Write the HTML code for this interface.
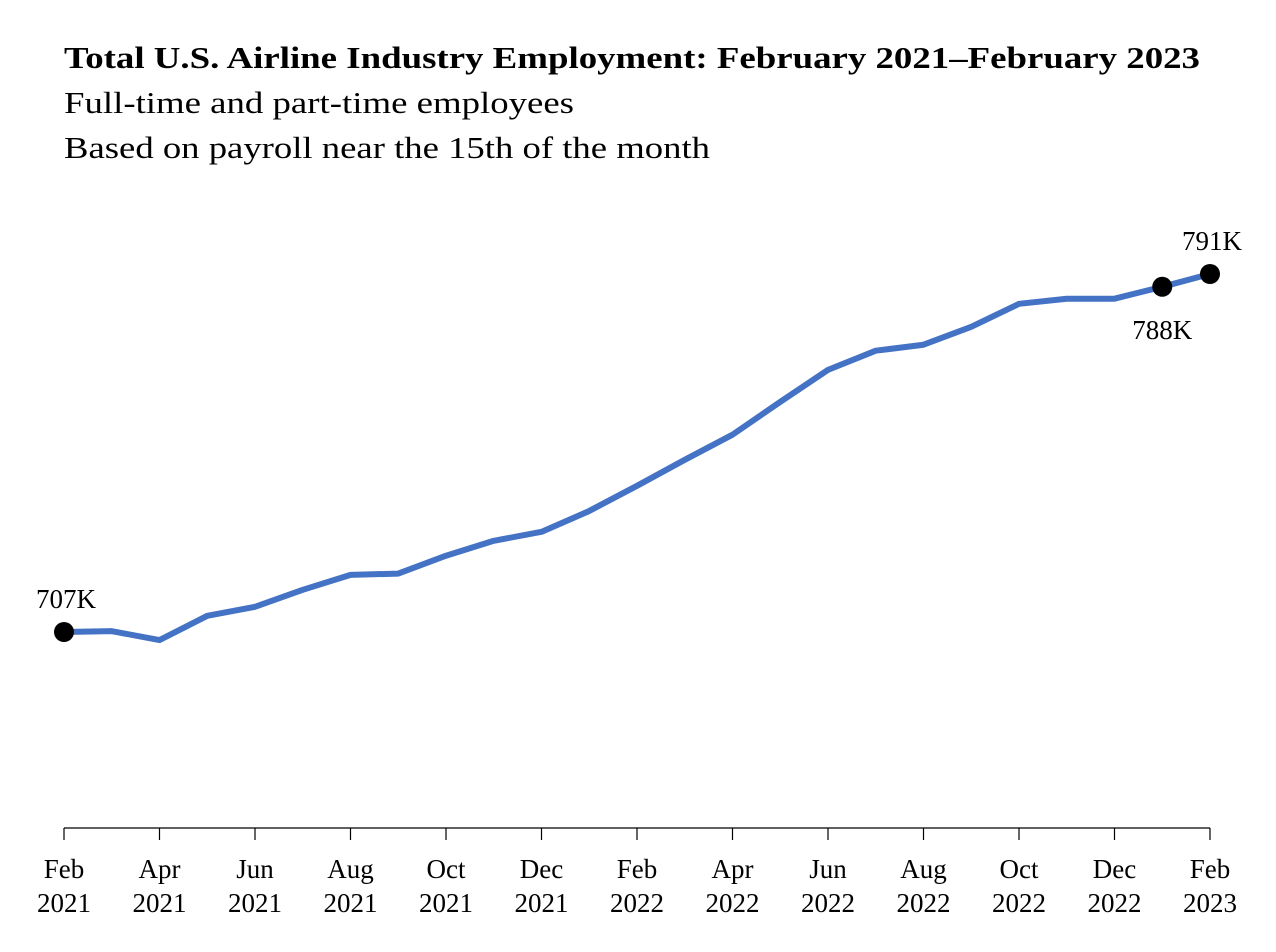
<!DOCTYPE html>
<html><head><meta charset="utf-8"><style>
html,body{margin:0;padding:0;background:#fff;}
svg{display:block;font-family:"Liberation Serif",serif;}
</style></head><body>
<svg width="1276" height="952" viewBox="0 0 1276 952">
<text x="64" y="68" font-size="31" font-weight="bold" textLength="1136" lengthAdjust="spacingAndGlyphs">Total U.S. Airline Industry Employment: February 2021–February 2023</text>
<text x="64" y="113" font-size="31" textLength="510" lengthAdjust="spacingAndGlyphs">Full-time and part-time employees</text>
<text x="64" y="158" font-size="31" textLength="646" lengthAdjust="spacingAndGlyphs">Based on payroll near the 15th of the month</text>
<line x1="64" y1="828" x2="1210" y2="828" stroke="#000" stroke-width="1.2"/>
<g id="ticks"></g>
<polyline id="line" fill="none" stroke="#4472C4" stroke-width="6" stroke-linejoin="round"/>
<g id="marks"></g>
</svg>
<script>
const months = ["Feb","Mar","Apr","May","Jun","Jul","Aug","Sep","Oct","Nov","Dec","Jan","Feb","Mar","Apr","May","Jun","Jul","Aug","Sep","Oct","Nov","Dec","Jan","Feb"];
const years = [2021,2021,2021,2021,2021,2021,2021,2021,2021,2021,2021,2022,2022,2022,2022,2022,2022,2022,2022,2022,2022,2022,2022,2023,2023];
const values = [707,707.2,705.1,710.8,712.9,716.9,720.4,720.7,724.9,728.4,730.5,735.4,741.3,747.4,753.3,761.0,768.5,773.0,774.4,778.6,784.0,785.2,785.2,788,791];
const labeled = [0,23,24];
const labelText = ["707K","788K","791K"];
const NS="http://www.w3.org/2000/svg";
function xs(i){return 64+i*(1210-64)/(months.length-1);}
function ys(v){return 632-(v-707)*4.262;}
const ticks=document.getElementById('ticks');
months.forEach((m,i)=>{
  if(i%2!==0) return;
  const l=document.createElementNS(NS,'line');
  l.setAttribute('x1',xs(i));l.setAttribute('x2',xs(i));l.setAttribute('y1',828);l.setAttribute('y2',840);
  l.setAttribute('stroke','#000');l.setAttribute('stroke-width','1.2');
  
  
  ticks.appendChild(l);
  const t=document.createElementNS(NS,'text');
  t.setAttribute('x',xs(i));t.setAttribute('y',878);t.setAttribute('font-size','27');t.setAttribute('text-anchor','middle');
  t.textContent=m;
  
  
  ticks.appendChild(t);
  const t2=document.createElementNS(NS,'text');
  t2.setAttribute('x',xs(i));t2.setAttribute('y',912);t2.setAttribute('font-size','27');t2.setAttribute('text-anchor','middle');
  t2.textContent=years[i];
  
  
  ticks.appendChild(t2);
});
document.getElementById('line').setAttribute('points',values.map((v,i)=>xs(i)+','+ys(v)).join(' '));
const marks=document.getElementById('marks');
labeled.forEach((idx,k)=>{
  const c=document.createElementNS(NS,'circle');
  c.setAttribute('cx',xs(idx));c.setAttribute('cy',ys(values[idx]));c.setAttribute('r',10);c.setAttribute('fill','#000');
  
  
  marks.appendChild(c);
  const t=document.createElementNS(NS,'text');
  const below = idx===23;
  t.setAttribute('x',xs(idx)+(below?0:2));
  t.setAttribute('y',ys(values[idx])+(below?52:-24));
  t.setAttribute('font-size','27');t.setAttribute('text-anchor','middle');
  t.textContent=labelText[k];
  
  
  marks.appendChild(t);
});
</script>
</body></html>
